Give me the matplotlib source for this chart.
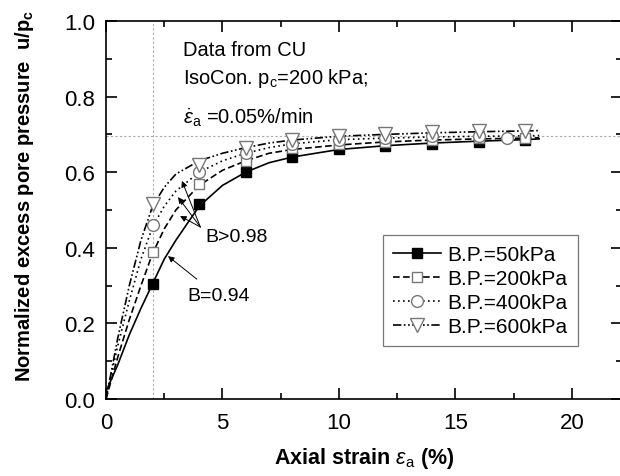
import matplotlib
matplotlib.use("Agg")
import matplotlib.pyplot as plt
from matplotlib.ticker import MultipleLocator

plt.rcParams['font.family'] = ['Liberation Sans', 'DejaVu Sans']
plt.rcParams['mathtext.fontset'] = 'custom'
plt.rcParams['mathtext.rm'] = 'Liberation Sans'
plt.rcParams['mathtext.it'] = 'Liberation Sans:italic'
plt.rcParams['mathtext.bf'] = 'Liberation Sans:bold'

# measured points
x_pts = [2, 4, 6, 8, 10, 12, 14, 16, 18]
u_50 = [0.305, 0.515, 0.600, 0.640, 0.660, 0.670, 0.675, 0.680, 0.685]
u_200 = [0.390, 0.570, 0.630, 0.665, 0.675, 0.680, 0.685, 0.690, 0.690]
x_pts_400 = [2, 4, 6, 8, 10, 12, 14, 16, 17.2]
u_400 = [0.460, 0.600, 0.650, 0.675, 0.685, 0.690, 0.695, 0.695, 0.690]
u_600 = [0.515, 0.620, 0.665, 0.685, 0.695, 0.700, 0.705, 0.710, 0.710]

# fitted curves
x_fit = [0, 0.5, 1, 1.5, 2, 2.5, 3, 4, 5, 6, 7, 8, 10, 12, 14, 16, 18, 18.6]
f_50 = [0.02, 0.09, 0.17, 0.24, 0.305, 0.37, 0.42, 0.51, 0.565, 0.60, 0.625, 0.64, 0.66, 0.67, 0.677, 0.682, 0.686, 0.688]
f_200 = [0.0, 0.11, 0.21, 0.30, 0.385, 0.45, 0.50, 0.565, 0.605, 0.63, 0.65, 0.66, 0.672, 0.68, 0.685, 0.688, 0.69, 0.691]
f_400 = [0.0, 0.14, 0.26, 0.37, 0.455, 0.51, 0.55, 0.60, 0.63, 0.65, 0.665, 0.675, 0.686, 0.69, 0.693, 0.695, 0.696, 0.697]
f_600 = [0.0, 0.16, 0.30, 0.42, 0.51, 0.56, 0.595, 0.63, 0.65, 0.665, 0.677, 0.685, 0.695, 0.70, 0.704, 0.707, 0.709, 0.71]

fig = plt.figure(figsize=(6.2, 4.77), dpi=100)
ax = fig.add_axes([0.171, 0.1614, 0.832, 0.7926])

# reference lines
ax.axhline(0.695, color='#aaaaaa', ls=(0, (2, 2)), lw=0.8)
ax.axvline(2, color='#aaaaaa', ls=(0, (2, 2)), lw=0.8)

grey = '#777777'
ax.plot(x_fit, f_50, color='black', lw=1.2, ls='-')
ax.plot(x_fit, f_200, color='black', lw=1.2, ls=(0, (4, 2)))
ax.plot(x_fit, f_400, color='black', lw=1.2, ls=(0, (1, 2)))
ax.plot(x_fit, f_600, color='black', lw=1.2, ls=(0, (5, 1.5, 1, 1.5, 1, 1.5)))

ax.plot(x_pts, u_50, 's', color='black', ms=7.5, ls='none')
ax.plot(x_pts, u_200, 's', mfc='white', mec=grey, ms=7.5, ls='none')
ax.plot(x_pts_400, u_400, 'o', mfc='white', mec=grey, ms=8.5, ls='none')
ax.plot(x_pts, u_600, 'v', mfc='white', mec=grey, ms=9.5, ls='none')

# legend proxies
h1, = ax.plot([], [], color='black', lw=1.2, marker='s', ms=7.5)
h2, = ax.plot([], [], color='black', lw=1.2, ls=(0, (4, 2)), marker='s', mfc='white', mec=grey, ms=7.5)
h3, = ax.plot([], [], color='black', lw=1.2, ls=(0, (1, 2)), marker='o', mfc='white', mec=grey, ms=8.5)
h4, = ax.plot([], [], color='black', lw=1.2, ls=(0, (5, 1.5, 1, 1.5, 1, 1.5)), marker='v', mfc='white', mec=grey, ms=9.5)
leg = ax.legend([h1, h2, h3, h4],
                ['B.P.=50kPa', 'B.P.=200kPa', 'B.P.=400kPa', 'B.P.=600kPa'],
                loc='upper left', bbox_to_anchor=(0.537, 0.435), fontsize=15,
                frameon=True, fancybox=False, edgecolor='#555555',
                handlelength=2.3, handletextpad=0.3, labelspacing=0.24,
                borderpad=0.5, borderaxespad=0)
leg.get_frame().set_linewidth(0.9)

# annotations
ax.text(3.3, 0.925, 'Data from CU', fontsize=14.5, va='center')
ax.text(3.3, 0.85, r'IsoCon. p$_\mathrm{c}$=200 kPa;', fontsize=14.5, va='center')
ax.text(3.3, 0.745, r'$\dot{\varepsilon}_\mathrm{a}$ =0.05%/min', fontsize=14.5, va='center')

ax.text(4.25, 0.43, 'B>0.98', fontsize=14, va='center')
for hx, hy in [(3.26, 0.577), (3.09, 0.534), (3.18, 0.484)]:
    ax.annotate('', xy=(hx, hy), xytext=(4.05, 0.455),
                arrowprops=dict(arrowstyle='-|>', color='black', lw=0.7,
                                mutation_scale=9, shrinkA=0, shrinkB=0))
ax.text(3.5, 0.275, 'B=0.94', fontsize=14, va='center')
ax.annotate('', xy=(2.66, 0.378), xytext=(3.9, 0.317),
            arrowprops=dict(arrowstyle='-|>', color='black', lw=0.7,
                            mutation_scale=9, shrinkA=0, shrinkB=0))

ax.set_xlim(0, 22.15)
ax.set_ylim(0, 1.0)
ax.xaxis.set_major_locator(MultipleLocator(5))
ax.xaxis.set_minor_locator(MultipleLocator(2.5))
ax.yaxis.set_major_locator(MultipleLocator(0.2))
ax.yaxis.set_minor_locator(MultipleLocator(0.1))
ax.set_yticks([0, 0.2, 0.4, 0.6, 0.8, 1.0], ['0.0', '0.2', '0.4', '0.6', '0.8', '1.0'])
ax.tick_params(which='both', direction='in', top=True, right=True, labelsize=16, width=1.2)
ax.tick_params(which='major', length=8)
ax.tick_params(axis='x', which='major', pad=9)
ax.tick_params(axis='y', which='major', pad=8)
ax.tick_params(which='minor', length=4)
for s in ax.spines.values():
    s.set_linewidth(1.2)

ax.set_xlabel(r'Axial strain $\varepsilon_\mathrm{a}$ (%)', fontsize=15.5, fontweight='bold', labelpad=9)
ax.set_ylabel(r'Normalized excess pore pressure  u/p$_\mathbf{c}$', fontsize=14.5, fontweight='bold', labelpad=15)
ax.yaxis.set_label_coords(-0.135, 0.54)

fig.savefig('out.png', dpi=100)
